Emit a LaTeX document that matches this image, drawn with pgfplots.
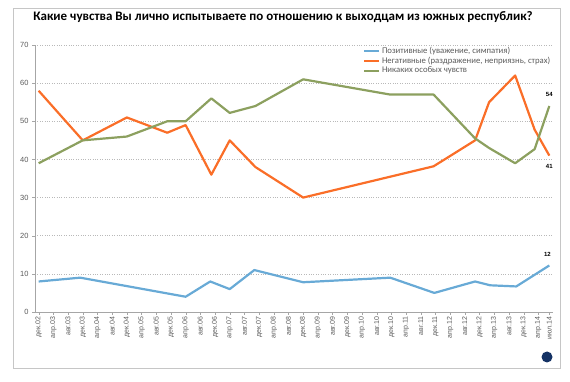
\documentclass[border=0pt]{standalone}
\usepackage{pgfplots}
\pgfplotsset{compat=1.18}
\usepackage{fontspec}
\setmainfont{Liberation Sans}
\newfontfamily\calfont{Carlito}
\definecolor{cpos}{RGB}{104,170,214}
\definecolor{cneg}{RGB}{250,110,40}
\definecolor{cnone}{RGB}{140,160,95}
\definecolor{ctick}{RGB}{90,90,90}
\definecolor{clogo}{RGB}{20,50,100}
\begin{document}
\begin{tikzpicture}
\path (0pt,0pt) rectangle (570pt,382pt);
\draw[gray!45, line width=0.8pt] (13pt,14pt) rectangle (560pt,374pt);
\node[font=\calfont\bfseries\fontsize{13}{15}\selectfont] at (283pt,365pt) {Какие чувства Вы лично испытываете по отношению к выходцам из южных республик?};
\begin{axis}[
  at={(35pt,70pt)}, anchor=south west, scale only axis,
  width=518pt, height=267pt,
  xmin=-1, xmax=140, ymin=0, ymax=70,
  axis x line*=bottom, axis y line*=left,
  axis line style={gray!70, -},
  ytick={0,10,...,70},
  ymajorgrids, grid style={gray!55, dotted, line width=0.6pt},
  major tick style={gray!70},
  tick align=outside, major tick length=3pt,
  xtick={0,4,...,136,139},
  xticklabels={дек.02,апр.03,авг.03,дек.03,апр.04,авг.04,дек.04,апр.05,авг.05,дек.05,апр.06,авг.06,дек.06,апр.07,авг.07,дек.07,апр.08,авг.08,дек.08,апр.09,авг.09,дек.09,апр.10,авг.10,дек.10,апр.11,авг.11,дек.11,апр.12,авг.12,дек.12,апр.13,авг.13,дек.13,апр.14,июл.14},
  xticklabel style={rotate=90, anchor=east, font=\fontsize{7}{8}\selectfont, text=ctick, inner sep=1.5pt},
  yticklabel style={font=\fontsize{7.5}{8}\selectfont, text=ctick},
  /pgf/number format/assume math mode=true,
  legend style={at={(0.631,1.005)}, anchor=north west, draw=none, fill=none,
    font=\calfont\fontsize{8.7}{9.5}\selectfont, text=ctick, row sep=-1.8pt,
    inner sep=1pt},
  legend cell align=left,
  legend image code/.code={\draw[#1, line width=2pt] (0pt,0pt) -- (15pt,0pt);},
  every axis plot/.append style={line width=2.2pt, line join=round, no markers},
]
\addplot[cpos] coordinates {(0,8) (11.3,9) (40,4) (46.7,8) (52,6) (58.7,11) (72,7.8) (95.7,9) (107.7,5) (118.8,8) (122.9,7) (130,6.7) (139,12.2)};
\addlegendentry{Позитивные (уважение, симпатия)}
\addplot[cneg] coordinates {(0,58) (12,45) (24,51) (35,47) (40,49) (47,36) (52,45) (59,38) (72,30) (107.5,38.2) (118.8,45) (122.6,55) (129.7,62) (135,47.8) (139,41)};
\addlegendentry{Негативные (раздражение, неприязнь, страх)}
\addplot[cnone] coordinates {(0,39) (12,45) (24,46) (35,50) (40,50) (47,56) (52,52.2) (59,54) (72,61) (95.7,57) (107.5,57) (118.8,45.5) (122.6,43) (129.7,39) (135,42.7) (139,54)};
\addlegendentry{Никаких особых чувств}
\node[font=\bfseries\fontsize{6}{7}\selectfont, anchor=south] at (axis cs:139,55.5) {54};
\node[font=\bfseries\fontsize{6}{7}\selectfont, anchor=north] at (axis cs:139,39.5) {41};
\node[font=\bfseries\fontsize{6}{7}\selectfont, anchor=south] at (axis cs:138.5,13.5) {12};
\end{axis}
\fill[clogo] (547pt,25pt) circle (5.5pt);
\end{tikzpicture}
\end{document}
